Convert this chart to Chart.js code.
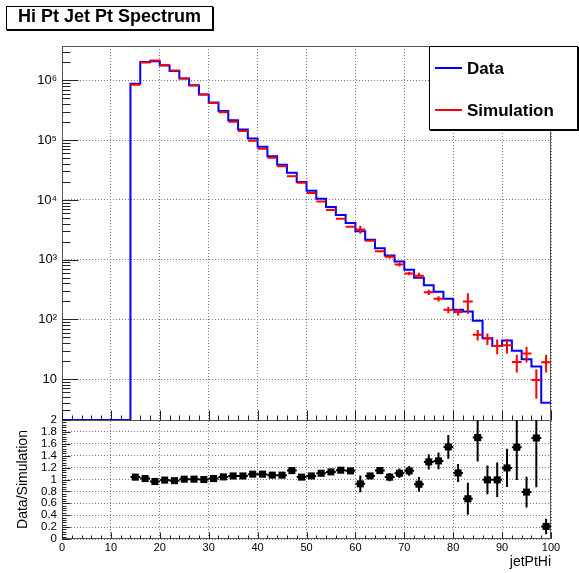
<!DOCTYPE html>
<html>
<head>
<meta charset="utf-8">
<script src="https://cdn.jsdelivr.net/npm/chart.js@4.4.1/dist/chart.umd.min.js"></script>
<style>
body{margin:0;background:#fff;font-family:'Liberation Sans',Arial,sans-serif;}
#wrap{position:relative;width:579px;height:573px;}
#c{position:absolute;left:0;top:0;}
#title{position:absolute;left:6px;top:6px;width:205px;height:22px;border:1px solid #000;box-shadow:1px 1px 0 #000;background:#fff;
  font-weight:bold;font-size:18px;line-height:19px;text-align:center;}
#legend{position:absolute;left:429px;top:46px;width:147px;height:82px;border:1px solid #000;box-shadow:1px 1px 0 #000;background:#fff;}
.ln{position:absolute;left:5px;width:27px;height:2px;}
.lt{position:absolute;left:37px;font-weight:bold;font-size:17px;line-height:20px;white-space:nowrap;}
</style>
</head>
<body>
<div id="wrap">
  <canvas id="c" width="579" height="573"></canvas>
  <div id="title">Hi Pt Jet Pt Spectrum</div>
  <div id="legend">
    <div class="ln" style="top:20px;background:#0000ff"></div><div class="lt" style="top:12px">Data</div>
    <div class="ln" style="top:62px;background:#ff0000"></div><div class="lt" style="top:54px">Simulation</div>
  </div>
</div>
<script>
/* histogram binning (width 2 in jetPtHi) */
const BIN_W = 2;
const binCenters = [1,3,5,7,9,11,13,15,17,19,21,23,25,27,29,31,33,35,37,39,41,43,45,47,49,
  51,53,55,57,59,61,63,65,67,69,71,73,75,77,79,81,83,85,87,89,91,93,95,97,99];
const dataCounts = [0,0,0,0,0,0,0,8.8e5,2.03e6,2.08e6,1.78e6,1.43e6,1.08e6,8.25e5,5.82e5,4.28e5,
  3.06e5,2.16e5,1.51e5,1.07e5,7.74e4,5.39e4,3.86e4,2.84e4,2.0e4,1.43e4,1.05e4,7640,5610,4120,
  2980,2160,1550,1170,936,679,499,373,290,223,145,136,94.9,48.6,36.1,44.4,30.1,21.6,16.3,4.06];

const simCenters = [15,17,19,21,23,25,27,29,31,33,35,37,39,41,43,45,47,49,51,53,55,57,59,
  61,63,65,67,69,71,73,75,77,79,81,83,85,87,89,91,93,95,97,99];
const simCounts = [8.45e5,2.0e6,2.15e6,1.8e6,1.46e6,1.07e6,8.2e5,5.82e5,4.2e5,2.93e5,2.04e5,1.42e5,
  9.8e4,7.16e4,5.06e4,3.66e4,2.49e4,1.93e4,1.31e4,9380,6800,4860,3570,
  3200,2080,1380,1120,830,590,540,286,222,145,133,200,55.5,48,36.1,37,19.4,27,9.7,19.3];
const simErr = [1500,2300,2400,2100,1900,1700,1450,1200,1050,870,720,600,500,430,360,300,250,220,185,155,130,110,95,
  480,75,63,73,58,41,65,29,22,18,17,75,11,10.5,10,10,6.4,8,5,6.3];

const ratioVals = [1.04,1.016,0.966,0.99,0.98,1.006,1.006,1.0,1.016,1.044,1.06,1.06,1.09,1.09,1.073,1.073,
  1.15,1.04,1.06,1.105,1.128,1.156,1.145,0.927,1.06,1.15,1.04,1.105,1.145,0.92,1.296,1.313,1.547,1.11,
  0.676,1.704,0.994,0.994,1.195,1.542,0.788,1.698,0.211];
const ratioErr = [0.012,0.01,0.01,0.01,0.01,0.01,0.01,0.01,0.01,0.012,0.012,0.012,0.014,0.014,0.015,0.016,
  0.02,0.02,0.022,0.024,0.026,0.03,0.032,0.14,0.04,0.05,0.07,0.08,0.08,0.12,0.13,0.14,0.2,0.15,0.27,0.4,
  0.24,0.29,0.32,0.55,0.26,0.83,0.13];

const yMajor = [10, 100, 1000, 1e4, 1e5, 1e6];
const yLabels = ['10', '10\u00b2', '10\u00b3', '10\u2074', '10\u2075', '10\u2076'];
const YMIN = 2.08, YMAX = 3.76e6;

const FONT = "'Liberation Sans', Arial, sans-serif";

// step outline for the data histogram, empty bins sit on the axis floor
const dataSteps = [];
binCenters.forEach((c, i) => {
  dataSteps.push({x: c - BIN_W / 2, y: dataCounts[i] > 0 ? dataCounts[i] : YMIN});
});
dataSteps.push({x: binCenters[binCenters.length - 1] + BIN_W / 2, y: dataCounts[dataCounts.length - 1]});

const simPoints = simCenters.map((c, i) => ({x: c, y: simCounts[i]}));
const ratioPoints = simCenters.map((c, i) => ({x: c, y: ratioVals[i]}));

// ROOT-like "E" drawing: bin-wide horizontal bar plus vertical error
const errorBars = {
  id: 'errorBars',
  afterDatasetsDraw(chart) {
    const ctx = chart.ctx;
    const xs = chart.scales.x;
    chart.data.datasets.forEach(ds => {
      if (!ds.errY) return;
      const ys = chart.scales[ds.yAxisID];
      ctx.save();
      ctx.beginPath();
      ctx.rect(xs.left, ys.top, xs.right - xs.left, ys.bottom - ys.top);
      ctx.clip();
      ctx.strokeStyle = ds.errColor;
      ctx.lineWidth = 2;
      ctx.beginPath();
      ds.data.forEach((p, j) => {
        const px = xs.getPixelForValue(p.x);
        const py = ys.getPixelForValue(p.y);
        ctx.moveTo(xs.getPixelForValue(p.x - BIN_W / 2), py);
        ctx.lineTo(xs.getPixelForValue(p.x + BIN_W / 2), py);
        ctx.moveTo(px, ys.getPixelForValue(Math.max(p.y - ds.errY[j], ys.min)));
        ctx.lineTo(px, ys.getPixelForValue(Math.min(p.y + ds.errY[j], ys.max)));
      });
      ctx.stroke();
      ctx.restore();
    });
  }
};

// frames of both pads and inward tick marks
const rootAxes = {
  id: 'rootAxes',
  beforeDatasetsDraw(chart) {
    const ctx = chart.ctx;
    const x = chart.scales.x, y = chart.scales.y, r = chart.scales.ratio;
    const L = Math.round(x.left) + 0.5, R = Math.round(x.right) - 0.5;
    const yT = Math.round(y.top) + 0.5, yB = Math.round(y.bottom) + 0.5, rB = Math.round(r.bottom) - 0.5;
    ctx.save();
    ctx.lineWidth = 1;
    ctx.strokeStyle = '#555';
    ctx.strokeRect(L, yT, R - L, yB - yT);
    ctx.strokeRect(L, yB, R - L, rB - yB);
    ctx.restore();
  },
  afterDatasetsDraw(chart) {
    const ctx = chart.ctx;
    const x = chart.scales.x, y = chart.scales.y, r = chart.scales.ratio;
    const L = Math.round(x.left) + 0.5;
    const yB = Math.round(y.bottom) + 0.5, rB = Math.round(r.bottom) - 0.5;
    ctx.save();
    ctx.lineWidth = 1;
    ctx.strokeStyle = '#222';
    ctx.beginPath();
    for (let e = 0; e <= 6; e++) {
      for (let m = 1; m <= 9; m++) {
        const v = m * Math.pow(10, e);
        if (v < y.min || v > y.max) continue;
        const py = Math.round(y.getPixelForValue(v)) + 0.5;
        ctx.moveTo(L, py); ctx.lineTo(L + (m === 1 ? 16 : 8), py);
      }
    }
    for (let k = 0; k <= 50; k++) {
      const py = Math.round(r.getPixelForValue(k * 0.04)) + 0.5;
      ctx.moveTo(L, py); ctx.lineTo(L + (k % 5 === 0 ? 8 : 4), py);
    }
    for (let k = 0; k <= 50; k++) {
      const px = Math.round(x.getPixelForValue(k * BIN_W)) + 0.5;
      const big = k % 5 === 0;
      ctx.moveTo(px, yB); ctx.lineTo(px, yB - (big ? 10 : 5));
      ctx.moveTo(px, rB); ctx.lineTo(px, rB - (big ? 6 : 3));
    }
    ctx.stroke();
    ctx.restore();
  }
};

const gridStyle = {color: '#7a7a7a', drawTicks: false};
const borderStyle = {display: false, dash: [1, 2]};

new Chart(document.getElementById('c'), {
  data: {
    datasets: [{
      type: 'line',
      label: 'Data',
      data: dataSteps,
      yAxisID: 'y',
      stepped: 'before',
      borderColor: '#0000ff',
      borderWidth: 2,
      pointRadius: 0,
      fill: false
    }, {
      type: 'scatter',
      label: 'Simulation',
      data: simPoints,
      yAxisID: 'y',
      pointRadius: 0,
      errY: simErr,
      errColor: '#ff0000'
    }, {
      type: 'scatter',
      label: 'Data/Simulation',
      data: ratioPoints,
      yAxisID: 'ratio',
      pointStyle: 'rect',
      pointRadius: 5,
      pointBackgroundColor: '#000',
      pointBorderColor: '#000',
      pointBorderWidth: 0,
      errY: ratioErr,
      errColor: '#000'
    }]
  },
  options: {
    responsive: false,
    animation: false,
    devicePixelRatio: 1,
    layout: {padding: {left: 0, right: 28, top: 46, bottom: 0}},
    plugins: {legend: {display: false}, tooltip: {enabled: false}},
    scales: {
      x: {
        type: 'linear', position: 'bottom', min: 0, max: 100,
        grid: gridStyle, border: borderStyle,
        ticks: {stepSize: 10, color: '#000', padding: 2, font: {family: FONT, size: 11}, autoSkip: false, maxRotation: 0},
        title: {display: true, text: 'jetPtHi', align: 'end', color: '#000', padding: {top: 0, bottom: 2}, font: {family: FONT, size: 14}},
        afterFit: s => { s.height = 34; }
      },
      ratio: {
        type: 'linear', axis: 'y', position: 'left', stack: 'pads', stackWeight: 119, min: 0, max: 2,
        grid: gridStyle, border: borderStyle,
        ticks: {stepSize: 0.2, color: '#000', padding: 5, autoSkip: false, font: {family: FONT, size: 11.5},
          callback: v => String(+v.toFixed(1))},
        title: {display: true, text: 'Data/Simulation', color: '#000', padding: {top: 15, bottom: 0}, font: {family: FONT, size: 14}},
        afterFit: s => { s.width = 62; }
      },
      y: {
        type: 'logarithmic', position: 'left', stack: 'pads', stackWeight: 374, min: YMIN, max: YMAX,
        grid: gridStyle, border: borderStyle,
        afterBuildTicks: s => { s.ticks = yMajor.map(v => ({value: v, major: true})); },
        ticks: {color: '#000', padding: 5, autoSkip: false, font: {family: FONT, size: 13},
          callback: v => yLabels[yMajor.indexOf(v)] || ''},
        afterFit: s => { s.width = 62; }
      }
    }
  },
  plugins: [rootAxes, errorBars]
});
</script>
</body>
</html>
